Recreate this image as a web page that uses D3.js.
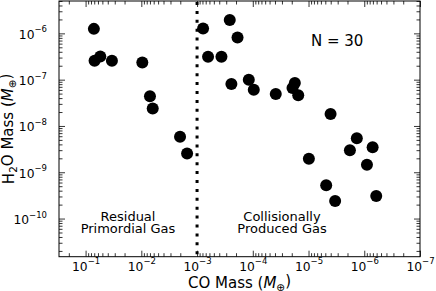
<!DOCTYPE html>
<html>
<head>
<meta charset="utf-8">
<script src="https://cdn.jsdelivr.net/npm/d3@7"></script>
<style>
  body { margin: 0; background: #fff; }
  text { font-family: "DejaVu Sans", sans-serif; fill: #000; }
</style>
</head>
<body>
<div id="main"></div>
<script>
// CO and H2O masses in Earth masses
const coMass = [0.071, 0.069, 0.0545, 0.0337, 0.0096, 0.0070, 0.00625, 0.00202, 0.00151,
    7.8e-4, 2.59e-4, 1.88e-4, 6.35e-4, 3.65e-4, 2.42e-4, 1.18e-4, 9.6e-5, 3.87e-5,
    1.76e-5, 1.94e-5, 1.53e-5, 4.02e-6, 1.36e-6, 1.81e-6, 7.08e-7, 9.86e-6, 8.95e-7,
    4.82e-6, 3.33e-6, 6.1e-7];
const h2oMass = [1.25e-6, 2.56e-7, 3.17e-7, 2.56e-7, 2.35e-7, 4.36e-8, 2.37e-8, 5.82e-9, 2.55e-9,
    1.27e-6, 1.95e-6, 8.1e-7, 3.12e-7, 3.12e-7, 8.05e-8, 9.97e-8, 6.08e-8, 4.91e-8,
    8.47e-8, 6.61e-8, 4.58e-8, 1.82e-8, 5.43e-9, 3.0e-9, 3.47e-9, 1.96e-9, 1.46e-9,
    5.21e-10, 2.39e-10, 3.07e-10];
const xTickExps = [-1, -2, -3, -4, -5, -6, -7];
const yTickExps = [-6, -7, -8, -9, -10];
const xDomain = [0.3, 1e-7];
const yDomain = [1.5e-11, 5e-6];
const divider = 1e-3;
const nLabel = "N = 30";
const leftNote = ["Residual", "Primordial Gas"];
const rightNote = ["Collisionally", "Produced Gas"];

const ctx = {
    w: 436,
    h: 291,
    left: 59,
    right: 420,
    top: 1,
    bottom: 256.7,
    r: 6,
};

function minorTicks(domain) {
    let lo = Math.floor(Math.log10(d3.min(domain)));
    let hi = Math.ceil(Math.log10(d3.max(domain)));
    let res = [];
    for (let e = lo; e < hi; e++) {
        for (let m = 2; m <= 9; m++) {
            let v = m * Math.pow(10, e);
            if (v >= d3.min(domain) && v <= d3.max(domain)) res.push(v);
        }
    }
    return res;
}

// write 10^e as text with a superscript
function powLabel(sel) {
    sel.each(function (d) {
        let t = d3.select(this);
        let e = Math.round(Math.log10(d));
        t.text(null);
        t.append("tspan").text("10");
        t.append("tspan")
            .attr("font-size", "8.5px")
            .attr("dy", "-0.75em")
            .text("\u2212" + Math.abs(e));
    });
}

function massLabel(t, prefix) {
    t.append("tspan").text(prefix);
    t.append("tspan").attr("font-style", "italic").text("M");
    t.append("tspan").attr("font-size", "10.5px").attr("dy", "0.3em").text("\u2295");
    t.append("tspan").attr("dy", "-0.3em").text(")");
}

function createViz() {
    let svgEl = d3.select("#main").append("svg")
        .attr("width", ctx.w)
        .attr("height", ctx.h);

    let x = d3.scaleLog().domain(xDomain).range([ctx.left, ctx.right]);
    let y = d3.scaleLog().domain(yDomain).range([ctx.bottom, ctx.top]);

    let xMajor = xTickExps.map((e) => Math.pow(10, e));
    let yMajor = yTickExps.map((e) => Math.pow(10, e));

    // axes on all four sides, ticks pointing inward
    let axes = [
        { gen: d3.axisBottom(x), tr: `translate(0,${ctx.bottom})`, major: xMajor, minor: minorTicks(xDomain), lab: true },
        { gen: d3.axisTop(x), tr: `translate(0,${ctx.top})`, major: xMajor, minor: minorTicks(xDomain), lab: false },
        { gen: d3.axisLeft(y), tr: `translate(${ctx.left},0)`, major: yMajor, minor: minorTicks(yDomain), lab: true },
        { gen: d3.axisRight(y), tr: `translate(${ctx.right},0)`, major: yMajor, minor: minorTicks(yDomain), lab: false },
    ];
    axes.forEach(function (a, i) {
        let isY = i >= 2;
        let g = svgEl.append("g").attr("transform", a.tr);
        g.call(a.gen.tickValues(a.minor).tickSize(-3.5).tickFormat(""));
        g.select(".domain").remove();
        g.selectAll("line").attr("stroke", "#000").attr("stroke-width", 0.8);
        let gM = svgEl.append("g").attr("transform", a.tr);
        gM.call(a.gen.tickValues(a.major).tickSize(-6).tickPadding(isY ? 12 : 4)
            .tickFormat(a.lab ? (d) => d : ""));
        gM.select(".domain").remove();
        gM.selectAll("line").attr("stroke", "#000").attr("stroke-width", 0.8);
        gM.selectAll("text")
            .attr("font-family", "DejaVu Sans")
            .attr("font-size", "12.3px")
            .attr("fill", "#000");
        if (a.lab) {
            gM.selectAll(".tick text").call(powLabel);
            if (isY) gM.selectAll(".tick text").attr("dy", "0.4em");
            else gM.selectAll(".tick text").attr("dy", "0.82em");
        }
    });

    // frame
    svgEl.append("rect")
        .attr("x", ctx.left)
        .attr("y", ctx.top)
        .attr("width", ctx.right - ctx.left)
        .attr("height", ctx.bottom - ctx.top)
        .attr("fill", "none")
        .attr("stroke", "#000")
        .attr("stroke-width", 1);

    // divider between the two gas regimes
    svgEl.append("line")
        .attr("x1", x(divider))
        .attr("x2", x(divider))
        .attr("y1", ctx.top + 1)
        .attr("y2", ctx.bottom)
        .attr("stroke", "#000")
        .attr("stroke-width", 3)
        .attr("stroke-dasharray", "3,5.9");

    // points
    svgEl.append("g")
        .selectAll("circle")
        .data(coMass)
        .enter()
        .append("circle")
        .attr("cx", (d) => x(d))
        .attr("cy", (d, i) => y(h2oMass[i]))
        .attr("r", ctx.r)
        .attr("fill", "#000");

    // annotations
    svgEl.append("text")
        .attr("x", 311)
        .attr("y", 45.7)
        .attr("font-size", "15px")
        .text(nLabel);

    [[leftNote, 128], [rightNote, 282]].forEach(function (n) {
        let t = svgEl.append("text")
            .attr("text-anchor", "middle")
            .attr("font-size", "13px");
        n[0].forEach(function (line, i) {
            t.append("tspan")
                .attr("x", n[1])
                .attr("y", 221 + i * 12.3)
                .text(line);
        });
    });

    // axis labels
    let xl = svgEl.append("text")
        .attr("x", (ctx.left + ctx.right) / 2)
        .attr("y", 287.5)
        .attr("text-anchor", "middle")
        .attr("font-size", "15px");
    massLabel(xl, "CO Mass (");

    let yl = svgEl.append("text")
        .attr("transform", `translate(14,${(ctx.top + ctx.bottom) / 2}) rotate(-90)`)
        .attr("text-anchor", "middle")
        .attr("font-size", "15px");
    yl.append("tspan").text("H");
    yl.append("tspan").attr("font-size", "10.5px").attr("dy", "0.3em").text("2");
    yl.append("tspan").attr("dy", "-0.3em").text("O Mass (");
    yl.append("tspan").attr("font-style", "italic").text("M");
    yl.append("tspan").attr("font-size", "10.5px").attr("dy", "0.3em").text("\u2295");
    yl.append("tspan").attr("dy", "-0.3em").text(")");
}

createViz();
</script>
</body>
</html>
